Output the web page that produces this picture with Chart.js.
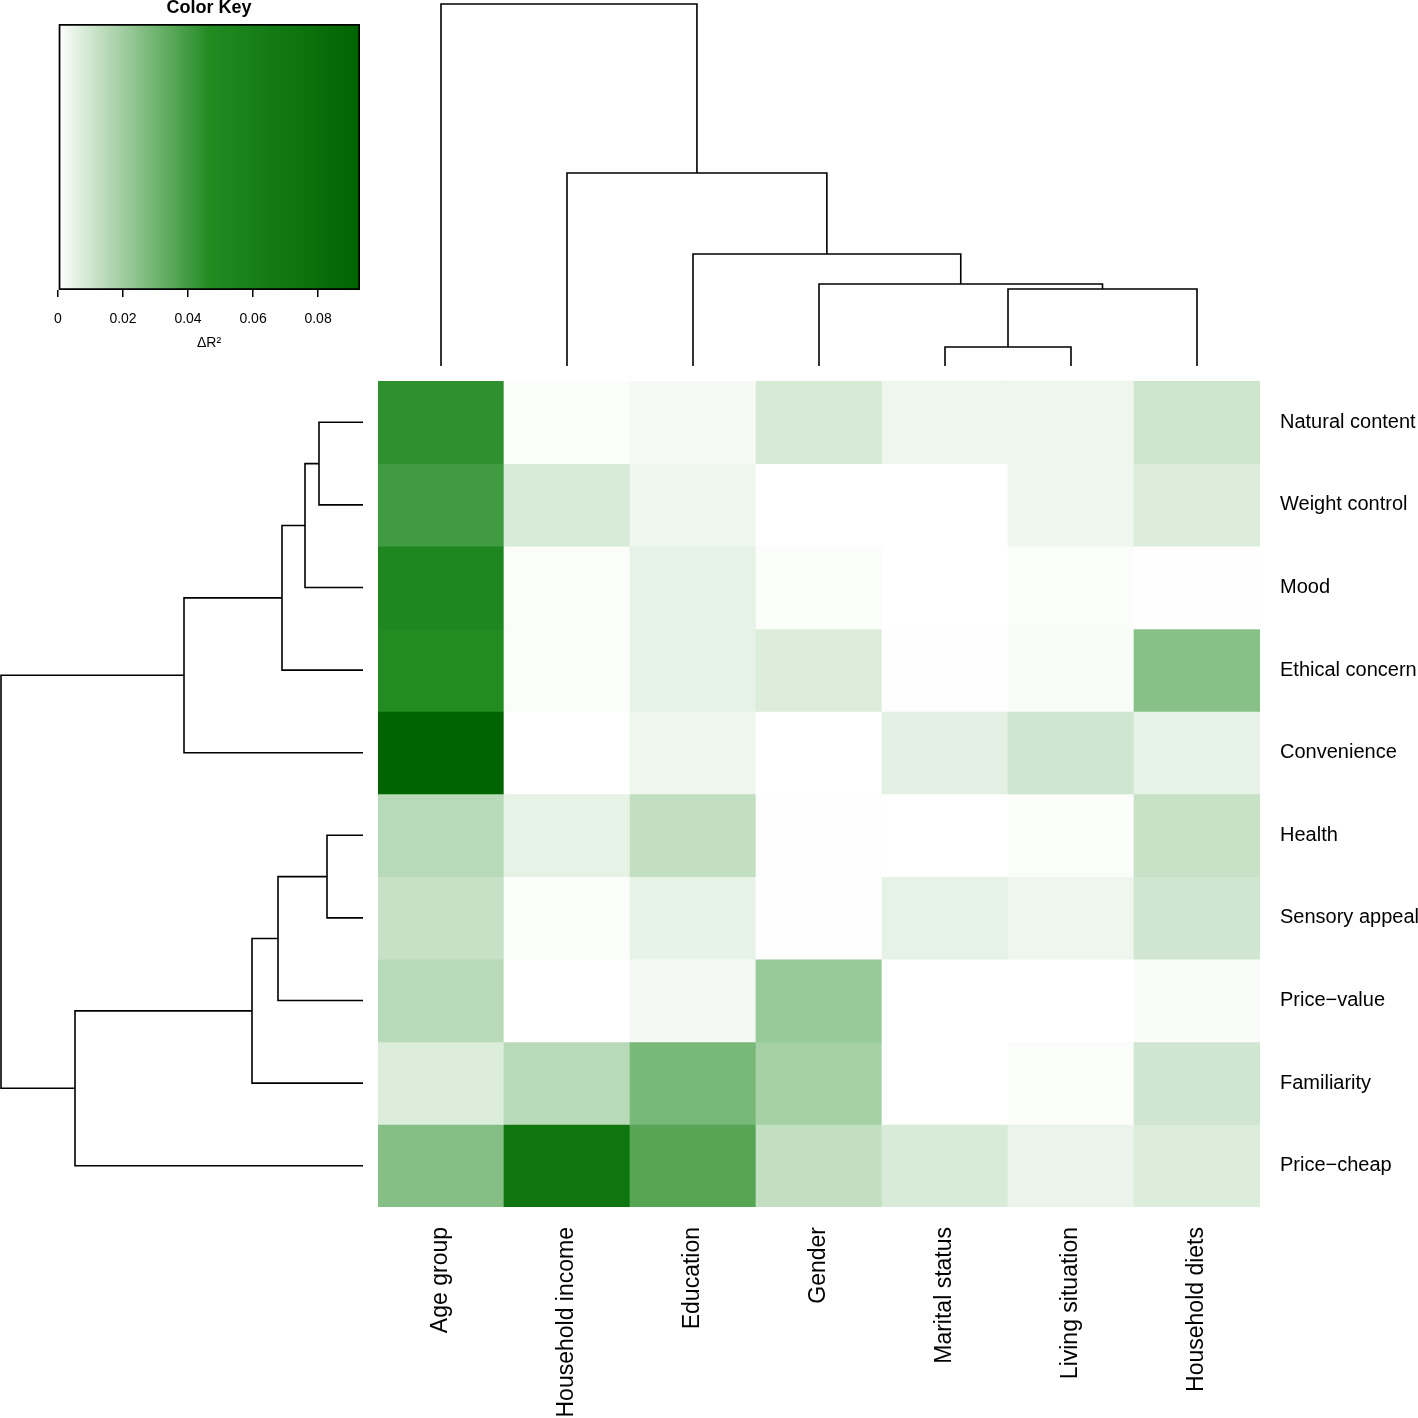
<!DOCTYPE html>
<html><head><meta charset="utf-8">
<script src="https://cdn.jsdelivr.net/npm/chart.js@4.4.1/dist/chart.umd.min.js"></script>
<style>
html,body{margin:0;padding:0;background:#fff;width:1418px;height:1418px;overflow:hidden;position:relative;}
canvas{position:absolute;}
</style></head><body>
<canvas id="key" width="400" height="370" style="left:0;top:-3px"></canvas>
<canvas id="topd" width="882" height="381" style="left:378px;top:0"></canvas>
<canvas id="leftd" width="378" height="826" style="left:0;top:381px"></canvas>
<canvas id="heat" width="1040" height="1037" style="left:378px;top:381px"></canvas>
<script>
// ---------- data ----------
const columns = ['Age group','Household income','Education','Gender','Marital status','Living situation','Household diets'];
const rows = ['Natural content','Weight control','Mood','Ethical concern','Convenience','Health','Sensory appeal','Price\u2212value','Familiarity','Price\u2212cheap'];

// ΔR² per column, rows in the order above
const ageGroup        = [0.044, 0.040, 0.051, 0.047, 0.0929, 0.015, 0.012, 0.015, 0.0074, 0.0255];
const householdIncome = [0.001, 0.0082, 0.001, 0.001, 0, 0.0053, 0.001, 0, 0.015, 0.072];
const education       = [0.002, 0.0034, 0.0053, 0.0053, 0.0036, 0.0128, 0.0048, 0.0023, 0.0284, 0.0356];
const gender          = [0.0086, 0, 0.0008, 0.0074, 0, 0.0005, 0.0005, 0.0217, 0.0187, 0.0128];
const maritalStatus   = [0.0036, 0, 0, 0.0005, 0.0059, 0, 0.0053, 0, 0, 0.0082];
const livingSituation = [0.0036, 0.0036, 0.001, 0.0012, 0.0099, 0.001, 0.0036, 0, 0.001, 0.0044];
const householdDiets  = [0.0105, 0.0074, 0.0005, 0.025, 0.0053, 0.0115, 0.0099, 0.0013, 0.0099, 0.0074];

// colour key
const keyMin = 0, keyMax = 0.0929;
const keyTicks = [0, 0.02, 0.04, 0.06, 0.08];

// dendrograms (R hclust style: negative = leaf, positive = earlier merge)
const colMerge  = [[-5,-6],[1,-7],[-4,2],[-3,3],[-2,4],[-1,5]];
const colHeight = [0.19, 0.77, 0.82, 1.12, 1.93, 3.62];
const rowMerge  = [[-1,-2],[1,-3],[2,-4],[3,-5],[-6,-7],[5,-8],[6,-9],[7,-10],[4,8]];
const rowHeight = [0.44, 0.58, 0.81, 1.79, 0.36, 0.85, 1.11, 2.88, 3.62];

// ---------- helpers ----------
Chart.defaults.font.family = '"Liberation Sans", Arial, Helvetica, sans-serif';
Chart.defaults.color = '#000';
Chart.defaults.animation = false;
Chart.defaults.plugins.legend.display = false;
Chart.defaults.plugins.tooltip.enabled = false;

const WHITE = [255,255,255], FOREST = [34,139,34], DARK = [0,100,0];
function mix(a,b,t){ return a.map((v,i)=>Math.round(v+(b[i]-v)*t)); }
function colorFor(v){
  let t = Math.max(0, Math.min(1, (v-keyMin)/(keyMax-keyMin)));
  const c = t <= 0.5 ? mix(WHITE, FOREST, t/0.5) : mix(FOREST, DARK, (t-0.5)/0.5);
  return `rgb(${c[0]},${c[1]},${c[2]})`;
}

function dendroSegments(merges, heights){
  const pos = [], hgt = [];
  const p = id => id < 0 ? (-id-1) : pos[id-1];
  const h = id => id < 0 ? 0 : hgt[id-1];
  const segs = [];
  merges.forEach(([a,b], k) => {
    const hk = heights[k];
    segs.push([[p(a),h(a)],[p(a),hk],[p(b),hk],[p(b),h(b)]]);
    pos[k] = (p(a)+p(b))/2; hgt[k] = hk;
  });
  return segs;
}
const lineStyle = {showLine:true, pointRadius:0, borderColor:'#000', borderWidth:1.6, fill:false, clip:false, tension:0};

// ---------- colour key ----------
new Chart(document.getElementById('key'), {
  type:'bar',
  data:{ labels:['key'], datasets:[{
    data:[[keyMin, keyMax]],
    barPercentage:1, categoryPercentage:1,
    borderWidth:2, borderColor:'#000', borderSkipped:false,
    backgroundColor:(c)=>{
      const a = c.chart.chartArea; if(!a) return '#fff';
      const g = c.chart.ctx.createLinearGradient(a.left,0,a.right,0);
      const n = 60;
      for(let i=0;i<=n;i++){ g.addColorStop(i/n, colorFor(keyMin+(keyMax-keyMin)*i/n)); }
      return g;
    }
  }]},
  options:{
    responsive:false, indexAxis:'y',
    layout:{padding:{left:58,right:40,top:0,bottom:0}},
    plugins:{ title:{display:true, text:'Color Key', font:{size:18, weight:'bold'}, padding:{top:0,bottom:5.4}, color:'#000'} },
    scales:{
      y:{display:false},
      x:{type:'linear', min:keyMin, max:keyMax,
         afterBuildTicks:s=>{ s.ticks = keyTicks.map(v=>({value:v})); },
         afterFit:s=>{ s.height = 77; s.paddingLeft=0; s.paddingRight=0; },
         grid:{display:true, drawOnChartArea:false, drawTicks:true, tickLength:7, color:'#000', lineWidth:1.5},
         border:{display:false},
         ticks:{padding:14, font:{size:14}, color:'#000', callback:v=> v===0 ? '0' : v.toFixed(2)},
         title:{display:true, text:'\u0394R\u00B2', font:{size:14}, padding:{top:0,bottom:15}, color:'#000'}
      }
    }
  }
});

// ---------- top dendrogram ----------
new Chart(document.getElementById('topd'), {
  type:'scatter',
  data:{ datasets: dendroSegments(colMerge, colHeight).map(s=>({
    ...lineStyle, data: s.map(([x,y])=>({x, y}))
  }))},
  options:{
    responsive:false,
    layout:{padding:{top:4,bottom:15,left:0,right:0}},
    scales:{
      x:{type:'linear', display:false, min:-0.5, max:columns.length-0.5},
      y:{type:'linear', display:false, min:0, max:Math.max(...colHeight)}
    }
  }
});

// ---------- left dendrogram ----------
new Chart(document.getElementById('leftd'), {
  type:'scatter',
  data:{ datasets: dendroSegments(rowMerge, rowHeight).map(s=>({
    ...lineStyle, data: s.map(([p,h])=>({x:h, y:p}))
  }))},
  options:{
    responsive:false,
    layout:{padding:{top:0,bottom:0,left:1,right:15}},
    scales:{
      x:{type:'linear', display:false, min:0, max:Math.max(...rowHeight), reverse:true},
      y:{type:'linear', display:false, min:-0.5, max:rows.length-0.5, reverse:true}
    }
  }
});

// ---------- heatmap ----------
const colData = [ageGroup, householdIncome, education, gender, maritalStatus, livingSituation, householdDiets];
new Chart(document.getElementById('heat'), {
  type:'bar',
  data:{
    labels: columns,
    datasets: rows.map((r, i)=>({
      label:r,
      data: columns.map(()=>1),
      backgroundColor: colData.map(col=>colorFor(col[i])),
      borderWidth:0, barPercentage:1, categoryPercentage:1
    }))
  },
  options:{
    responsive:false,
    layout:{padding:0},
    scales:{
      x:{stacked:true, grid:{display:false}, border:{display:false},
         ticks:{minRotation:90, maxRotation:90, autoSkip:false, padding:12, font:{size:23}, color:'#000'},
         afterFit:s=>{ s.height = 211; s.paddingLeft=0; s.paddingRight=0; }
      },
      y:{type:'linear', position:'right', stacked:true, min:0, max:rows.length, reverse:true,
         grid:{display:false}, border:{display:false},
         afterBuildTicks:s=>{ s.ticks = rows.map((_, i)=>({value:i+0.5})); },
         ticks:{autoSkip:false, padding:12, font:{size:20}, color:'#000', callback:(v,i)=>rows[i]},
         afterFit:s=>{ s.width = 158; s.paddingTop=0; s.paddingBottom=0; }
      }
    }
  }
});
</script>
</body></html>
